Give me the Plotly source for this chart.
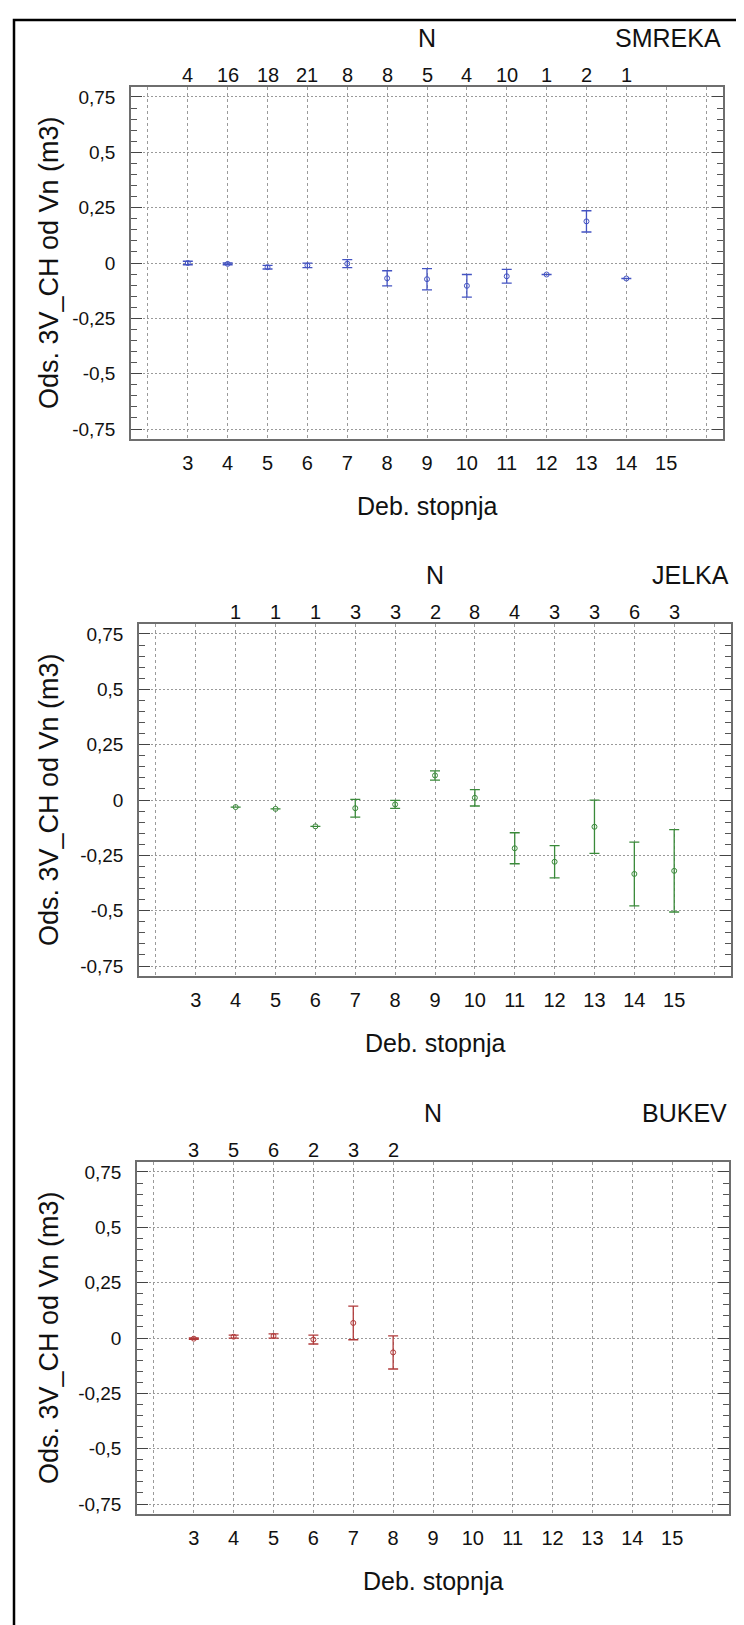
import plotly.graph_objects as go

# ---------------- data ----------------
species = ["SMREKA", "JELKA", "BUKEV"]
colors = ["#4353C2", "#3A8A3A", "#B03A3A"]

smreka_x = [3, 4, 5, 6, 7, 8, 9, 10, 11, 12, 13, 14]
smreka_mean = [0.0, -0.004, -0.019, -0.011, -0.003, -0.069, -0.073, -0.103, -0.06, -0.052, 0.188, -0.07]
smreka_err = [0.008, 0.004, 0.008, 0.01, 0.018, 0.034, 0.048, 0.051, 0.031, 0.0, 0.048, 0.0]
smreka_n = [4, 16, 18, 21, 8, 8, 5, 4, 10, 1, 2, 1]

jelka_x = [4, 5, 6, 7, 8, 9, 10, 11, 12, 13, 14, 15]
jelka_mean = [-0.032, -0.04, -0.119, -0.037, -0.02, 0.111, 0.01, -0.218, -0.279, -0.121, -0.334, -0.32]
jelka_err = [0.0, 0.0, 0.0, 0.04, 0.018, 0.021, 0.037, 0.07, 0.073, 0.12, 0.144, 0.186]
jelka_n = [1, 1, 1, 3, 3, 2, 8, 4, 3, 3, 6, 3]

bukev_x = [3, 4, 5, 6, 7, 8]
bukev_mean = [-0.003, 0.006, 0.009, -0.007, 0.068, -0.065]
bukev_err = [0.003, 0.007, 0.01, 0.02, 0.076, 0.075]
bukev_n = [3, 5, 6, 2, 3, 2]

x_grid = list(range(2, 17))
x_labels = [""] + [str(v) for v in range(3, 16)] + [""]
y_ticks = [0.75, 0.5, 0.25, 0, -0.25, -0.5, -0.75]
y_labels = ["0,75", "0,5", "0,25", "0", "-0,25", "-0,5", "-0,75"]

y_title = "Ods. 3V_CH od Vn (m3)"
x_title = "Deb. stopnja"

# ---------------- layout ----------------
W, H = 744, 1625
FONT = "Liberation Sans, Arial, sans-serif"
TXT = "#111111"

panels = [
    (smreka_x, smreka_mean, smreka_err, smreka_n, (123, 715), (79, 431)),
    (jelka_x, jelka_mean, jelka_err, jelka_n, (131, 723), (616, 968)),
    (bukev_x, bukev_mean, bukev_err, bukev_n, (129, 721), (1154, 1506)),
]

fig = go.Figure()
annotations = []
layout = dict(
    width=W, height=H, margin=dict(l=0, r=0, t=0, b=0),
    paper_bgcolor="white", plot_bgcolor="white", showlegend=False,
    font=dict(family=FONT, color=TXT),
)

for i, (xs, ms, es, ns, (xl, xr), (yt, yb)) in enumerate(panels):
    k = "" if i == 0 else str(i + 1)
    xa, ya = "x" + k, "y" + k
    col = colors[i]
    fig.add_trace(go.Scatter(
        x=xs, y=ms, mode="markers", xaxis=xa, yaxis=ya,
        marker=dict(symbol="circle-open", size=5, color=col, line=dict(width=1, color=col)),
        error_y=dict(type="data", array=es, symmetric=True, color=col, thickness=1.3, width=5),
        hoverinfo="skip",
    ))
    layout["xaxis" + k] = dict(
        domain=[xl / W, xr / W], anchor=ya, range=[1.575, 16.425],
        tickvals=x_grid, ticktext=x_labels, ticks="",
        showgrid=True, gridcolor="#9a9a9a", gridwidth=1, griddash="3px,3px",
        showline=True, linecolor="#6e6e6e", linewidth=1.5, mirror=True,
        zeroline=False, tickfont=dict(size=20, family=FONT, color=TXT),
        ticklabelstandoff=5,
    )
    layout["yaxis" + k] = dict(
        domain=[1 - yb / H, 1 - yt / H], anchor=xa, range=[-0.795, 0.795],
        tickvals=y_ticks, ticktext=y_labels,
        ticks="inside", ticklen=11, tickwidth=1.3, tickcolor="#444",
        minor=dict(dtick=0.05, tick0=0, ticks="inside", ticklen=6, tickwidth=1, tickcolor="#555", showgrid=False),
        showgrid=True, gridcolor="#9a9a9a", gridwidth=1, griddash="2px,2px",
        showline=True, linecolor="#6e6e6e", linewidth=1.5, mirror="ticks",
        zeroline=False, tickfont=dict(size=19, family=FONT, color=TXT),
        ticklabelstandoff=10,
    )
    # counts along the top
    for xv, nv in zip(xs, ns):
        annotations.append(dict(
            x=xv, y=1, xref=xa, yref=ya + " domain", text=str(nv), showarrow=False,
            yanchor="bottom", yshift=-1, font=dict(size=20, family=FONT, color=TXT),
        ))
    annotations.append(dict(
        x=9, y=1, xref=xa, yref=ya + " domain", text="N", showarrow=False,
        yanchor="middle", yshift=49, font=dict(size=25, family=FONT, color=TXT),
    ))
    annotations.append(dict(
        x=1, y=1, xref=xa + " domain", yref=ya + " domain", text=species[i], showarrow=False,
        xanchor="right", yanchor="middle", yshift=49, font=dict(size=25, family=FONT, color=TXT),
    ))
    annotations.append(dict(
        x=9, y=0, xref=xa, yref=ya + " domain", text=x_title, showarrow=False,
        yanchor="middle", yshift=-67, font=dict(size=25, family=FONT, color=TXT),
    ))
    annotations.append(dict(
        x=41 / W, y=0.5, xref="paper", yref=ya + " domain", text=y_title, showarrow=False,
        textangle=-90, xanchor="center", yanchor="middle", font=dict(size=27, family=FONT, color=TXT),
    ))

layout["annotations"] = annotations
layout["shapes"] = [dict(
    type="rect", xref="paper", yref="paper",
    x0=6 / W, x1=742 / W, y0=1 - 1623 / H, y1=1 - 12 / H,
    line=dict(color="black", width=2.5), fillcolor="rgba(0,0,0,0)", layer="above",
)]
fig.update_layout(**layout)
fig.write_html("out.html")
